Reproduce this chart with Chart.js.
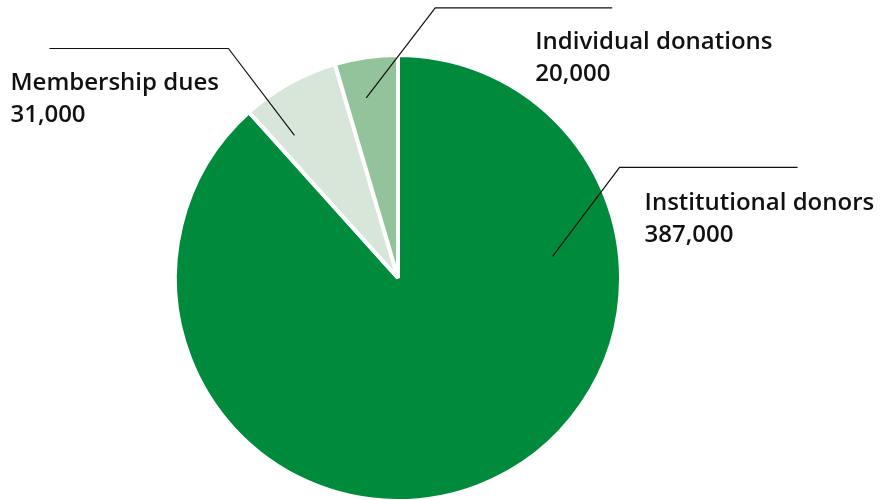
<!DOCTYPE html>
<html>
<head>
<meta charset="utf-8">
<script src="https://cdn.jsdelivr.net/npm/chart.js@4.4.1/dist/chart.umd.min.js"></script>
<style>
  html, body { margin: 0; padding: 0; background: #fff; overflow: hidden; }
  #wrap { width: 889px; height: 506px; position: relative; }
</style>
</head>
<body>
<div id="wrap"><canvas id="pie"></canvas></div>
<script>
// data
const categories = ['Institutional donors', 'Membership dues', 'Individual donations'];
const amounts = [387000, 31000, 20000];
const sliceColors = ['#008a3c', '#d8e6d9', '#93c39a'];

// leader line placement for each label: angle from 12 o'clock (deg), radius fraction,
// elbow offset, horizontal run, text offset from elbow
const leaders = [
  { angle: 82, frac: 0.70, ex: 67, ey: -89, run: 178, tx: 25, ty: 43 },
  { angle: 324, frac: 0.79, ex: -66, ey: -87, run: -179, tx: -218, ty: 42 },
  { angle: 350, frac: 0.82, ex: 69, ey: -90, run: 177, tx: 100, ty: 41 }
];

const fmt = v => v.toLocaleString('en-US');

// draws the leader lines and the two-line labels
const calloutPlugin = {
  id: 'callouts',
  afterDatasetsDraw(chart) {
    const ctx = chart.ctx;
    const arcs = chart.getDatasetMeta(0).data;
    ctx.save();
    arcs.forEach((arc, i) => {
      const p = leaders[i];
      const a = p.angle * Math.PI / 180;
      const r = arc.outerRadius * p.frac;
      const x0 = arc.x + Math.sin(a) * r;
      const y0 = arc.y - Math.cos(a) * r;
      const x1 = x0 + p.ex;
      const y1 = y0 + p.ey;
      ctx.beginPath();
      ctx.moveTo(x0, y0);
      ctx.lineTo(x1, y1);
      ctx.lineTo(x1 + p.run, y1);
      ctx.strokeStyle = '#111';
      ctx.lineWidth = 1.2;
      ctx.stroke();

      ctx.fillStyle = '#111';
      ctx.font = '600 24px "Open Sans"';
      ctx.textAlign = 'left';
      ctx.textBaseline = 'alphabetic';
      ctx.fillText(categories[i], x1 + p.tx, y1 + p.ty);
      ctx.fillText(fmt(amounts[i]), x1 + p.tx, y1 + p.ty + 32);
    });
    ctx.restore();
  }
};

new Chart(document.getElementById('pie'), {
  type: 'pie',
  data: {
    labels: categories,
    datasets: [{
      data: amounts,
      backgroundColor: sliceColors,
      borderColor: '#ffffff',
      borderWidth: 4
    }]
  },
  options: {
    responsive: true,
    maintainAspectRatio: false,
    animation: false,
    layout: { padding: { top: 53, bottom: 3, left: 173, right: 266 } },
    plugins: {
      legend: { display: false },
      tooltip: { enabled: false }
    }
  },
  plugins: [calloutPlugin]
});
</script>
</body>
</html>
